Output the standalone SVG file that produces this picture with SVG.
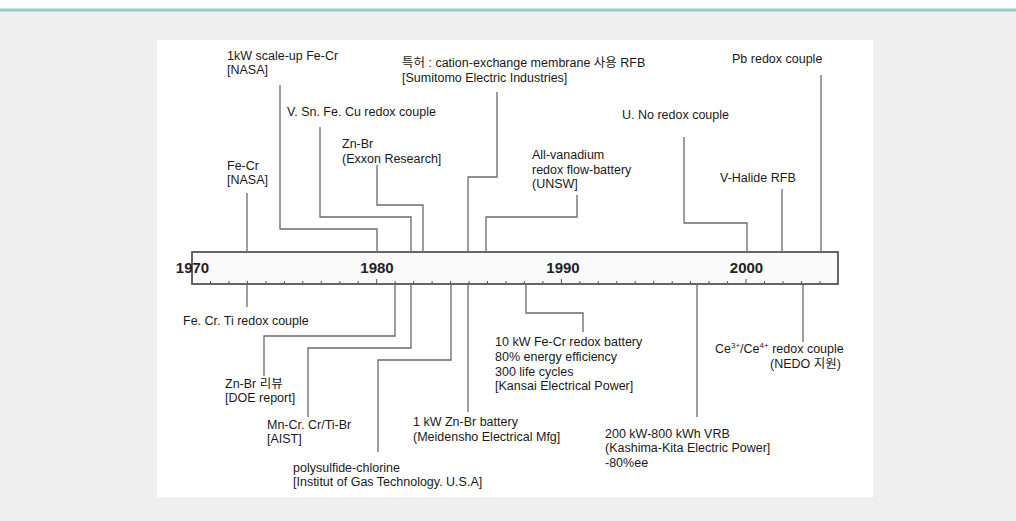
<svg xmlns="http://www.w3.org/2000/svg" width="1016" height="521" viewBox="0 0 1016 521">
<defs>
<style>
.t{font-family:"Liberation Sans","Noto Sans CJK KR",Arial,sans-serif;font-size:12.5px;fill:#1a1a1a;}
.yr{font-family:"Liberation Sans",Arial,sans-serif;font-size:15px;font-weight:bold;fill:#222;text-anchor:middle;}
.ln{fill:none;stroke:#6a6a6a;stroke-width:1.3;}
.tk{stroke:#555;stroke-width:1;}
.sup{font-size:8px;}
</style>
</defs>
<rect x="0" y="0" width="1016" height="521" fill="#efefef"/>
<rect x="0" y="0" width="1016" height="8.5" fill="#ffffff"/>
<rect x="0" y="8.5" width="1016" height="3" fill="#93d0c3"/>
<rect x="157" y="40" width="716" height="457" fill="#ffffff"/>

<g id="timeline">
<rect x="192" y="252" width="646" height="32" fill="#fafafa" stroke="#555" stroke-width="1.8"/>
<g class="tk">
<path d="M210.5,284v-3M229,284v-3M247.4,284v-3M265.9,284v-3M284.4,284v-3M302.8,284v-3M321.3,284v-3M339.8,284v-3M358.2,284v-3M376.7,284v-5M395.2,284v-3M413.6,284v-3M432.1,284v-3M450.6,284v-3M469,284v-3M487.5,284v-3M506,284v-3M524.4,284v-3M542.9,284v-3M561.4,284v-5M579.8,284v-3M598.3,284v-3M616.8,284v-3M635.2,284v-3M653.7,284v-3M672.2,284v-3M690.6,284v-3M709.1,284v-3M727.6,284v-3M746,284v-5M764.5,284v-3M783,284v-3M801.4,284v-3M819.9,284v-3"/>
</g>
<text class="yr" x="192.5" y="272.5">1970</text>
<text class="yr" x="377" y="272.5">1980</text>
<text class="yr" x="563" y="272.5">1990</text>
<text class="yr" x="746.5" y="272.5">2000</text>
</g>

<g id="connectors">
<path class="ln" d="M247,193V252"/>
<path class="ln" d="M280,85V229H377V252"/>
<path class="ln" d="M320,127V217H411V252"/>
<path class="ln" d="M377,165V205H423V252"/>
<path class="ln" d="M497,92V177H468V252"/>
<path class="ln" d="M577,195V217H486V252"/>
<path class="ln" d="M684,137V223H747V252"/>
<path class="ln" d="M782,189V252"/>
<path class="ln" d="M821,75V252"/>
<path class="ln" d="M247,284V307"/>
<path class="ln" d="M395,284V336H264V376"/>
<path class="ln" d="M411,284V348H308V417"/>
<path class="ln" d="M451,284V360H378V452"/>
<path class="ln" d="M468,284V412"/>
<path class="ln" d="M526,284V313H583V332"/>
<path class="ln" d="M697,284V417"/>
<path class="ln" d="M803,284V342"/>
</g>

<g id="n-1kw-fecr"><text class="t" x="227" y="60">1kW scale-up Fe-Cr</text><text class="t" x="227" y="73.5">[NASA]</text></g>
<g id="n-fecr"><text class="t" x="227" y="170">Fe-Cr</text><text class="t" x="227" y="184">[NASA]</text></g>
<g id="n-vsnfecu"><text class="t" x="287" y="116">V. Sn. Fe. Cu redox couple</text></g>
<g id="n-znbr-exxon"><text class="t" x="342" y="148">Zn-Br</text><text class="t" x="342" y="162.5">(Exxon Research]</text></g>
<g id="n-cation"><text class="t" x="402" y="67">특허 : cation-exchange membrane 사용 RFB</text><text class="t" x="402" y="82">[Sumitomo Electric Industries]</text></g>
<g id="n-allv"><text class="t" x="532" y="159">All-vanadium</text><text class="t" x="532" y="173.5">redox flow-battery</text><text class="t" x="532" y="188">(UNSW]</text></g>
<g id="n-uno"><text class="t" x="622" y="119">U. No redox couple</text></g>
<g id="n-vhalide"><text class="t" x="720" y="181.5">V-Halide RFB</text></g>
<g id="n-pb"><text class="t" x="732" y="62.5">Pb redox couple</text></g>

<g id="n-fecrti"><text class="t" x="183" y="325">Fe. Cr. Ti redox couple</text></g>
<g id="n-znbr-doe"><text class="t" x="225" y="387.5">Zn-Br 리뷰</text><text class="t" x="225" y="401.5">[DOE report]</text></g>
<g id="n-mncr"><text class="t" x="267" y="428.5">Mn-Cr. Cr/Ti-Br</text><text class="t" x="267" y="442.5">[AIST]</text></g>
<g id="n-polysulfide"><text class="t" x="293" y="472">polysulfide-chlorine</text><text class="t" x="293" y="486">[Institut of Gas Technology. U.S.A]</text></g>
<g id="n-1kw-znbr"><text class="t" x="413" y="426">1 kW Zn-Br battery</text><text class="t" x="413" y="441">(Meidensho Electrical Mfg]</text></g>
<g id="n-10kw"><text class="t" x="495" y="346">10 kW Fe-Cr redox battery</text><text class="t" x="495" y="361">80% energy efficiency</text><text class="t" x="495" y="375.5">300 life cycles</text><text class="t" x="495" y="390">[Kansai Electrical Power]</text></g>
<g id="n-200kw"><text class="t" x="605" y="438">200 kW-800 kWh VRB</text><text class="t" x="605" y="452">(Kashima-Kita Electric Power]</text><text class="t" x="605" y="467">-80%ee</text></g>
<g id="n-ce"><text class="t" x="715" y="352.5">Ce<tspan class="sup" dy="-5">3+</tspan><tspan dy="5">/Ce</tspan><tspan class="sup" dy="-5">4+</tspan><tspan dy="5"> redox couple</tspan></text><text class="t" x="770" y="367.5">(NEDO 지원)</text></g>
</svg>
